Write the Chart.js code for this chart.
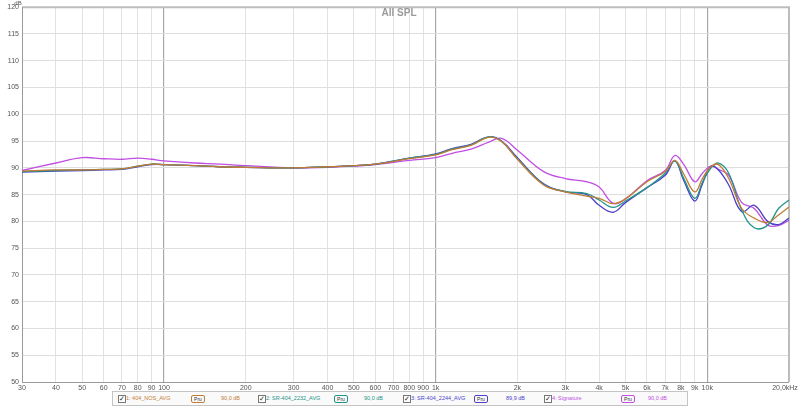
<!DOCTYPE html>
<html>
<head>
<meta charset="utf-8">
<script src="https://cdn.jsdelivr.net/npm/chart.js@4.4.1/dist/chart.umd.min.js"></script>
<style>
    body { margin: 0; background: #fff; }
    #wrap { position: relative; width: 800px; height: 406px; }
    #legend {
        position: absolute; left: 112px; top: 391px; width: 574px; height: 13px;
        border: 1px solid #c4c4c4; background: #fafafa;
        font: 5.5px "Liberation Sans", Arial, sans-serif;
    }
    .item { position: absolute; top: 0; height: 13px; line-height: 13px; white-space: nowrap; }
    .chk {
        position: absolute; top: 3px; width: 6px; height: 6px; border: 1px solid #777;
        background: #fff; font-size: 7px; line-height: 6px; text-align: center; color: #222;
    }
    .pru {
        position: absolute; top: 3px; width: 12px; height: 6px; border: 1px solid; border-radius: 2px;
        font-size: 5px; line-height: 6px; text-align: center; color: #333;
    }
</style>
</head>
<body>
<div id="wrap">
    <canvas id="spl" width="800" height="406"></canvas>
    <div id="legend"></div>
</div>
<script>
// frequency points (Hz)
const freqs = [30, 40, 50, 60, 70, 80, 90, 100, 130, 160, 200, 300, 400, 500, 600, 800, 1000, 1150, 1350, 1570, 1750,
    2000, 2500, 3000, 3600, 4000, 4500, 5000, 6000, 7000, 7600, 8200, 9000, 9600, 10300, 11000, 12000, 13400, 14900,
    16700, 18300, 20000];

const nosAvg = [89.4, 89.6, 89.6, 89.7, 89.8, 90.3, 90.7, 90.6, 90.4, 90.2, 90.1, 90.0, 90.2, 90.4, 90.7, 91.7, 92.4,
    93.4, 94.2, 95.7, 94.9, 91.6, 86.8, 85.5, 84.7, 84.3, 83.3, 84.2, 87.4, 89.3, 91.4, 88.8, 85.5, 88.0, 90.2, 90.6,
    88.0, 82.4, 80.6, 79.8, 81.2, 82.7];
const sr2232 = [89.3, 89.5, 89.6, 89.7, 89.8, 90.3, 90.7, 90.6, 90.4, 90.2, 90.1, 90.0, 90.2, 90.4, 90.7, 91.8, 92.5,
    93.5, 94.3, 95.8, 94.9, 91.7, 86.9, 85.6, 85.2, 84.0, 82.6, 83.8, 86.3, 89.0, 91.3, 88.0, 84.3, 87.3, 89.9, 90.9,
    89.0, 82.1, 78.8, 79.3, 82.4, 84.0];
const sr2244 = [89.2, 89.4, 89.5, 89.6, 89.7, 90.2, 90.6, 90.6, 90.4, 90.2, 90.1, 90.0, 90.2, 90.4, 90.7, 91.8, 92.6,
    93.6, 94.4, 95.8, 95.0, 91.9, 87.0, 85.5, 85.0, 83.0, 81.7, 83.5, 86.3, 88.6, 91.3, 87.6, 83.8, 87.0, 90.3, 89.6,
    86.8, 81.8, 83.0, 80.0, 79.4, 80.6];
const signature = [89.5, 90.9, 91.9, 91.7, 91.6, 91.8, 91.6, 91.3, 90.9, 90.7, 90.4, 90.0, 90.1, 90.3, 90.6, 91.4, 91.9,
    92.7, 93.5, 94.8, 95.5, 93.3, 89.3, 88.0, 87.4, 86.4, 83.4, 84.2, 87.6, 89.5, 92.3, 90.6, 87.4, 89.0, 90.3, 89.7,
    88.6, 83.5, 82.4, 79.3, 79.2, 80.2];

const seriesNames = ['1: 404_NOS_AVG', '2: SR-404_2232_AVG', '3: SR-404_2244_AVG', '4: Signature'];
const seriesLevels = ['90,0 dB', '90,0 dB', '89,9 dB', '90,0 dB'];
const seriesColors = ['#c27b34', '#229488', '#4b3fcc', '#c04fe2'];

const xTicks = [30, 40, 50, 60, 70, 80, 90, 100, 200, 300, 400, 500, 600, 700, 800, 900, 1000,
    2000, 3000, 4000, 5000, 6000, 7000, 8000, 9000, 10000, 20000];
const xTickLabels = ['30', '40', '50', '60', '70', '80', '90', '100', '200', '300', '400', '500', '600', '700', '800',
    '900', '1k', '2k', '3k', '4k', '5k', '6k', '7k', '8k', '9k', '10k', '20,0kHz'];
const majorX = [100, 1000, 10000];

function toPoints(values) {
    return freqs.map((f, i) => ({ x: f, y: values[i] }));
}

const extras = {
    id: 'extras',
    beforeDatasetsDraw(chart) {
        const { ctx, chartArea: a } = chart;
        ctx.save();
        ctx.strokeStyle = '#bdbdbd';
        ctx.lineWidth = 2;
        ctx.beginPath();
        ctx.moveTo(a.left, a.top);
        ctx.lineTo(a.right, a.top);
        ctx.lineTo(a.right, a.bottom);
        ctx.stroke();
        ctx.strokeStyle = '#9a9a9a';
        ctx.lineWidth = 1;
        ctx.beginPath();
        ctx.moveTo(a.left + 0.5, a.top);
        ctx.lineTo(a.left + 0.5, a.bottom + 0.5);
        ctx.lineTo(a.right, a.bottom + 0.5);
        ctx.stroke();
        ctx.restore();
    },
    afterDraw(chart) {
        const { ctx, chartArea: a } = chart;
        const xs = chart.scales.x;
        ctx.save();
        ctx.fillStyle = '#9a9a9a';
        ctx.font = 'bold 10px "Liberation Sans", Arial, sans-serif';
        ctx.textAlign = 'center';
        ctx.textBaseline = 'top';
        ctx.fillText('All SPL', 399, 8);
        ctx.fillStyle = '#555';
        ctx.font = '6px "Liberation Sans", Arial, sans-serif';
        ctx.fillText('dB', 18, 0);
        ctx.font = '7px "Liberation Sans", Arial, sans-serif';
        ctx.textBaseline = 'middle';
        xTicks.forEach((v, i) => {
            let px = xs.getPixelForValue(v);
            if (i === xTicks.length - 1) px -= 4;
            ctx.fillText(xTickLabels[i], px, a.bottom + 6);
        });
        ctx.restore();
    }
};

new Chart(document.getElementById('spl'), {
    type: 'line',
    data: {
        datasets: [nosAvg, sr2232, sr2244, signature].map((vals, i) => ({
            label: seriesNames[i],
            data: toPoints(vals),
            borderColor: seriesColors[i],
            borderWidth: 1.3,
            pointRadius: 0,
            tension: 0.4,
            fill: false
        }))
    },
    options: {
        responsive: false,
        animation: false,
        layout: { padding: { top: 7, right: 11, bottom: 24, left: 0 } },
        plugins: { legend: { display: false }, tooltip: { enabled: false } },
        scales: {
            x: {
                type: 'logarithmic',
                min: 30,
                max: 20000,
                afterBuildTicks(scale) { scale.ticks = xTicks.map(v => ({ value: v })); },
                afterFit(scale) { scale.height = 0; },
                ticks: { display: false },
                border: { display: false },
                grid: {
                    drawTicks: false,
                    color: c => majorX.includes(c.tick.value) ? '#a9a9a9' : '#e2e2e2',
                    lineWidth: c => majorX.includes(c.tick.value) ? 1.2 : 1
                }
            },
            y: {
                min: 50,
                max: 120,
                afterFit(scale) { scale.width = 22; },
                ticks: {
                    stepSize: 5,
                    padding: 3,
                    color: '#555',
                    font: { size: 7, family: '"Liberation Sans", Arial, sans-serif' }
                },
                border: { display: false },
                grid: { drawTicks: false, color: '#dedede' }
            }
        }
    },
    plugins: [extras]
});

// legend row under the plot
const legend = document.getElementById('legend');
const itemLeft = [5, 145, 290, 431];
const nameOffset = 8;
const pruOffset = [73, 76, 71, 77];
const levelOffset = [103, 106, 103, 104];
seriesNames.forEach((name, i) => {
    const item = document.createElement('div');
    item.className = 'item';
    item.style.left = itemLeft[i] + 'px';
    item.innerHTML =
        '<div class="chk" style="left:0">&#10003;</div>' +
        '<span style="position:absolute;left:' + nameOffset + 'px;color:' + seriesColors[i] + '">' + name + '</span>' +
        '<div class="pru" style="left:' + pruOffset[i] + 'px;border-color:' + seriesColors[i] + '">Pru</div>' +
        '<span style="position:absolute;left:' + levelOffset[i] + 'px;color:' + seriesColors[i] + '">' + seriesLevels[i] + '</span>';
    legend.appendChild(item);
});
</script>
</body>
</html>
